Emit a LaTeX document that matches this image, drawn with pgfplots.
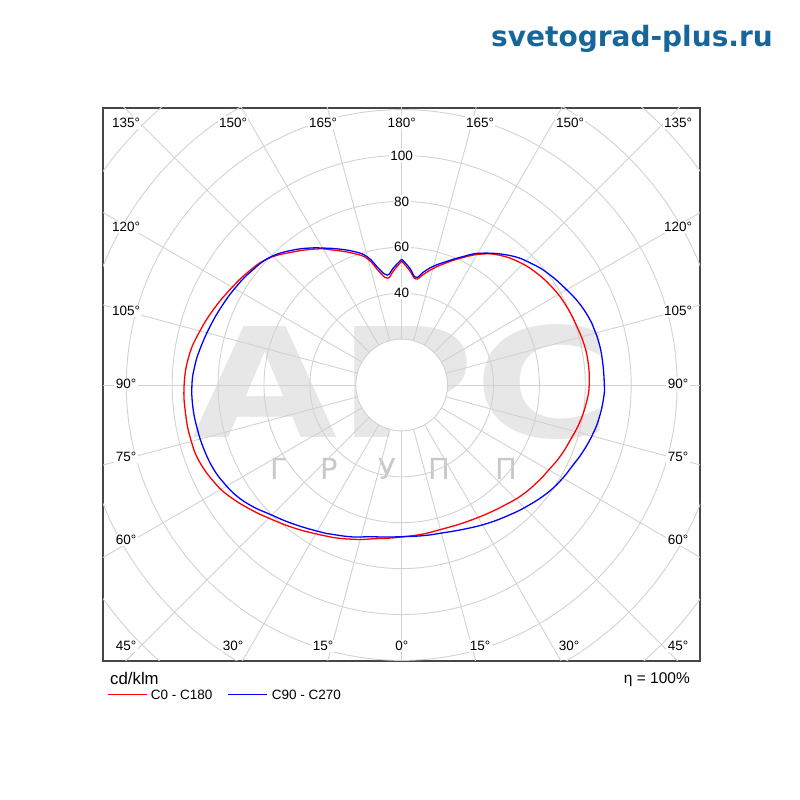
\documentclass[border=0pt]{standalone}
\usepackage{fontspec}
\setmainfont{Liberation Sans}
\newfontfamily\djv{DejaVu Sans}
\usepackage{pgfplots}
\pgfplotsset{compat=1.18}
\usepackage{pgfplotstable}
\definecolor{gridc}{RGB}{210,210,210}
\definecolor{titlec}{RGB}{22,102,154}
\definecolor{wmfill}{RGB}{231,231,231}
\definecolor{wmtext}{RGB}{200,200,200}
\definecolor{boxc}{RGB}{70,70,70}
\newcommand\lab{\fontsize{13.5}{16}\selectfont}

\pgfplotstableread{
a r
-180 54.0
-176 50.0
-172.5 46.9
-169 50.0
-165 56.8
-160 61.0
-153 66.0
-148 69.9
-140 75.4
-133 80.4
-126 83.2
-119 85.6
-112 88.3
-105 91.0
-98 93.5
-90 94.8
-82 95.0
-75 94.9
-69 94.2
-62 91.8
-57 89.3
-51 85.6
-45 82.0
-37 78.0
-29 74.5
-24 72.8
-16 70.0
-10 68.0
-5 67.0
0 66.2
8 65.6
15 65.2
22 65.6
28 66.3
34 67.4
40 68.8
47 70.9
54 72.6
60 74.0
66 75.8
72 77.3
78 79.2
84 80.7
90 81.7
98 81.8
105 81.1
110 80.3
116 79.5
122 78.4
129 76.6
136 74.2
143 70.8
149 66.5
155 61.0
160 56.6
165 52.5
169 49.0
172.5 46.6
176 50.0
180 54.0
}\redtab

\pgfplotstableread{
a r
-180 54.8
-176 51.2
-172.5 48.3
-169 51.5
-165 57.8
-160 62.0
-153 66.8
-148 70.5
-141 75.6
-134 80.0
-127 82.2
-121 83.8
-114 85.5
-107 87.3
-100 89.3
-95 90.6
-90 91.4
-84 91.5
-78 91.1
-72 90.6
-66 89.8
-61 88.4
-56 86.6
-51 83.9
-46 80.7
-38 76.8
-29 73.2
-24.5 71.6
-18 69.6
-12 67.6
-6 66.6
0 66.1
8 66.3
15 66.8
24 68.6
32 71.0
39.5 73.5
46 76.0
53 78.8
59 80.8
64.6 82.3
70 84.2
76 86.1
81 87.3
86 88.1
90 88.3
98 88.1
104 87.7
108 87.1
114 85.4
120 83.0
127 80.3
133 77.5
140 73.6
149 67.0
155 61.5
160 57.3
165 53.6
169 50.2
172.5 47.3
176 51.0
180 54.8
}\bluetab

\begin{document}
\begin{tikzpicture}
\path[use as bounding box] (0pt,0pt) rectangle (800pt,800pt);
% watermark
\node[anchor=south west, inner sep=0pt, text=wmfill] at (192pt,360pt) {\resizebox{420pt}{113pt}{\djv\bfseries APC}};
\foreach \x/\l in {279/Г,329/Р,387/У,439/П,506/П}
  \node[anchor=base, inner sep=0pt, text=wmtext, font=\djv\fontsize{29}{29}\selectfont] at (\x pt,320pt) {\l};
\fill[white] (401.7pt,415pt) circle (45.9pt);

\begin{axis}[
  at={(103pt,139pt)}, anchor=south west,
  scale only axis, width=597pt, height=553pt,
  xmin=-130.15, xmax=129.98, ymin=-120.26, ymax=120.7,
  xtick=\empty, ytick=\empty,
  axis line style={boxc, line width=1.3pt},
  clip=true,
]
\pgfplotsinvokeforeach{20,40,...,180}{
  \draw[gridc, line width=0.9pt] (axis cs:0,0) circle[radius=#1];
}
\pgfplotsinvokeforeach{0,15,...,345}{
  \draw[gridc, line width=0.9pt] (axis cs:{20*sin(#1)},{-20*cos(#1)}) -- (axis cs:{260*sin(#1)},{-260*cos(#1)});
}
\addplot[red, line width=1.3pt, smooth, tension=0.75] table[x expr={\thisrow{r}*sin(\thisrow{a})}, y expr={-\thisrow{r}*cos(\thisrow{a})}] {\redtab};
\addplot[blue, line width=1.3pt, smooth, tension=0.75] table[x expr={\thisrow{r}*sin(\thisrow{a})}, y expr={-\thisrow{r}*cos(\thisrow{a})}] {\bluetab};
\node[fill=white, inner sep=1.5pt, font=\lab] at (axis cs:0,40) {40};
\node[fill=white, inner sep=1.5pt, font=\lab] at (axis cs:0,60) {60};
\node[fill=white, inner sep=1.5pt, font=\lab] at (axis cs:0,80) {80};
\node[fill=white, inner sep=1.5pt, font=\lab] at (axis cs:0,100) {100};
\end{axis}

% angle labels
\foreach \x/\t in {126/135,233/150,323/165,401.7/180,480/165,570/150,678/135}
  \node[fill=white, inner sep=1.5pt, font=\lab] at (\x pt,677.3pt) {\t°};
\foreach \x/\t in {126/45,233/30,323/15,401.7/0,480/15,569/30,678/45}
  \node[fill=white, inner sep=1.5pt, font=\lab] at (\x pt,154pt) {\t°};
\foreach \y/\t in {573/120,489/105,416/90,343/75,260/60} {
  \node[fill=white, inner sep=1.5pt, font=\lab] at (126pt,\y pt) {\t°};
  \node[fill=white, inner sep=1.5pt, font=\lab] at (678pt,\y pt) {\t°};
}

% title
\node[anchor=base east, inner sep=0pt, text=titlec, font=\djv\bfseries\fontsize{28}{31}\selectfont] at (773pt,753.5pt) {svetograd-plus.ru};

% legend
\node[anchor=base west, inner sep=0pt, font=\fontsize{16.8}{19}\selectfont] at (110pt,115pt) {cd/klm};
\draw[red, line width=1.3pt] (108.3pt,105.7pt) -- (146.7pt,105.7pt);
\node[anchor=base west, inner sep=0pt, font=\lab] at (150.7pt,100pt) {C0 - C180};
\draw[blue, line width=1.3pt] (228.3pt,105.7pt) -- (266.7pt,105.7pt);
\node[anchor=base west, inner sep=0pt, font=\lab] at (271.7pt,100pt) {C90 - C270};
\node[anchor=base east, inner sep=0pt, font=\fontsize{15.5}{18}\selectfont] at (690pt,116pt) {η = 100\%};
\end{tikzpicture}
\end{document}
